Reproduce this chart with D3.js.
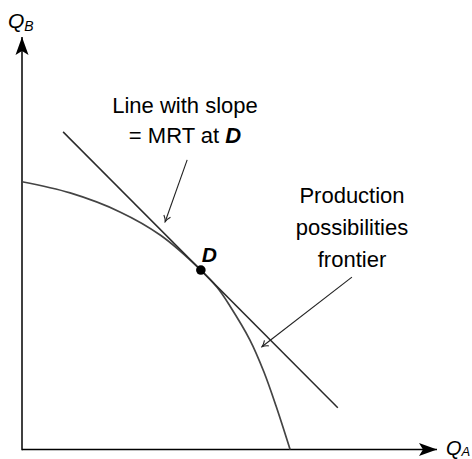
<!DOCTYPE html>
<html>
<head>
<meta charset="utf-8">
<script src="https://cdn.jsdelivr.net/npm/d3@7"></script>
<style>
  body { margin: 0; background: #fff; }
  svg { display: block; font-family: "Liberation Sans", Arial, sans-serif; }
</style>
</head>
<body>
<div id="chart"></div>
<script>
const width = 472;
const height = 459;

// production possibilities frontier (Q_A, Q_B)
var ppfA = [0, 11.6, 23.6, 33.3, 43.1, 47.1, 50.1, 54.9, 58.3, 61.2, 64.6];
var ppfB = [64.9, 62.2, 57.6, 52.0, 43.5, 39.2, 34.8, 26.6, 18.8, 10.6, 0];

// tangent line at D (end points)
var tangentA = [9.9, 76.1];
var tangentB = [77.0, 10.1];

// point D
var pointD = [43.1, 43.5];

// annotation arrows: [fromA, fromB, toA, toB]
var mrtArrow = [39.8, 70.2, 34.5, 55.2];
var ppfArrow = [79.5, 41.8, 57.8, 24.9];

var mrtLabel = ["Line with slope", "= MRT at "];
var ppfLabel = ["Production", "possibilities", "frontier"];

// scales
var xScale = d3.scaleLinear().domain([0, 100]).range([22, 437]);
var yScale = d3.scaleLinear().domain([0, 100]).range([449.5, 37]);

var svg = d3.select("#chart").append("svg")
  .attr("width", width)
  .attr("height", height);

var defs = svg.append("defs");
// filled stealth arrow for the axes
defs.append("marker")
  .attr("id", "axisHead")
  .attr("markerUnits", "userSpaceOnUse")
  .attr("viewBox", "-19 -8 20 16")
  .attr("refX", 0).attr("refY", 0)
  .attr("markerWidth", 20).attr("markerHeight", 16)
  .attr("orient", "auto")
  .append("path")
  .attr("d", "M0,0 L-18,-6.5 L-14,0 L-18,6.5 Z")
  .attr("fill", "#000");
// thin open arrow for the labels
defs.append("marker")
  .attr("id", "thinHead")
  .attr("markerUnits", "userSpaceOnUse")
  .attr("viewBox", "-8 -5 9 10")
  .attr("refX", 0).attr("refY", 0)
  .attr("markerWidth", 9).attr("markerHeight", 10)
  .attr("orient", "auto")
  .append("path")
  .attr("d", "M-6,-3.5 Q-3,-0.8 0,0 Q-3,0.8 -6,3.5")
  .attr("fill", "none")
  .attr("stroke", "#222")
  .attr("stroke-width", 1.1);

// axes
svg.append("line")
  .attr("x1", xScale(0)).attr("y1", yScale(0))
  .attr("x2", xScale(100)).attr("y2", yScale(0))
  .attr("stroke", "#000").attr("stroke-width", 1.5)
  .attr("marker-end", "url(#axisHead)");
svg.append("line")
  .attr("x1", xScale(0)).attr("y1", yScale(0) + 0.75)
  .attr("x2", xScale(0)).attr("y2", yScale(100))
  .attr("stroke", "#000").attr("stroke-width", 1.5)
  .attr("marker-end", "url(#axisHead)");

// axis labels
var qb = svg.append("text").attr("x", 8).attr("y", 28)
  .attr("font-size", 21).attr("font-style", "italic");
qb.append("tspan").text("Q");
qb.append("tspan").attr("font-size", 14).attr("dy", 3).text("B");

var qa = svg.append("text").attr("x", 446).attr("y", 455)
  .attr("font-size", 20).attr("font-style", "italic");
qa.append("tspan").text("Q");
qa.append("tspan").attr("font-size", 13).attr("dy", 1).text("A");

// PPF curve
var ppfData = ppfA.map((a, i) => [a, ppfB[i]]);
var line = d3.line()
  .x(d => xScale(d[0]))
  .y(d => yScale(d[1]))
  .curve(d3.curveCatmullRom.alpha(0.5));

svg.append("path")
  .datum(ppfData)
  .attr("d", line)
  .attr("fill", "none")
  .attr("stroke", "#444")
  .attr("stroke-width", 1.7);

// tangent line
svg.append("line")
  .attr("x1", xScale(tangentA[0])).attr("y1", yScale(tangentB[0]))
  .attr("x2", xScale(tangentA[1])).attr("y2", yScale(tangentB[1]))
  .attr("stroke", "#2a2a2a").attr("stroke-width", 1.5);

// point D
svg.append("circle")
  .attr("cx", xScale(pointD[0])).attr("cy", yScale(pointD[1]))
  .attr("r", 4.8).attr("fill", "#000");
svg.append("text")
  .attr("x", xScale(pointD[0]) + 1).attr("y", yScale(pointD[1]) - 8)
  .attr("font-size", 21).attr("font-weight", "bold").attr("font-style", "italic")
  .text("D");

// annotation arrows
[mrtArrow, ppfArrow].forEach(a => {
  svg.append("line")
    .attr("x1", xScale(a[0])).attr("y1", yScale(a[1]))
    .attr("x2", xScale(a[2])).attr("y2", yScale(a[3]))
    .attr("stroke", "#222").attr("stroke-width", 1.1)
    .attr("marker-end", "url(#thinHead)");
});

// labels
svg.append("text")
  .attr("x", 185).attr("y", 113)
  .attr("font-size", 22).attr("text-anchor", "middle")
  .text(mrtLabel[0]);
var l2 = svg.append("text")
  .attr("x", 185).attr("y", 143)
  .attr("font-size", 22).attr("text-anchor", "middle");
l2.append("tspan").text(mrtLabel[1]);
l2.append("tspan").attr("font-weight", "bold").attr("font-style", "italic").text("D");

svg.selectAll(".ppfLabel")
  .data(ppfLabel)
  .enter().append("text")
  .attr("class", "ppfLabel")
  .attr("x", 352)
  .attr("y", (d, i) => 203 + i * 32)
  .attr("font-size", 22).attr("text-anchor", "middle")
  .text(d => d);
</script>
</body>
</html>
